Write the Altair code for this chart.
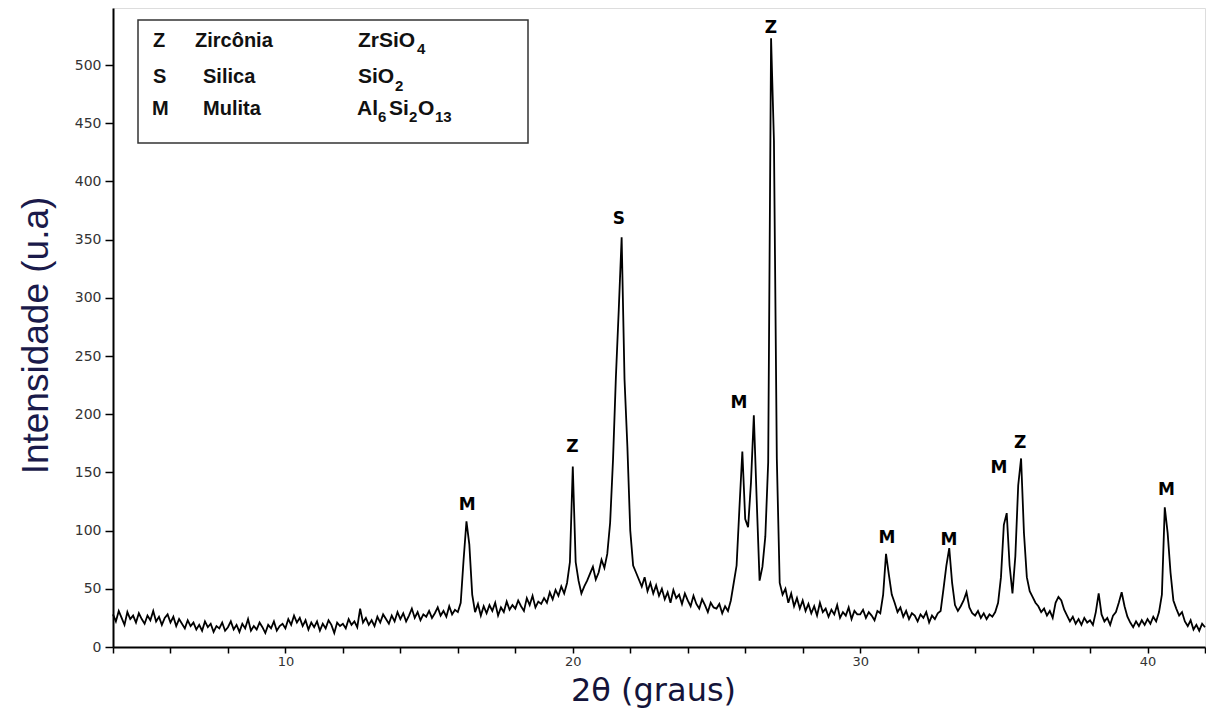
import altair as alt
import pandas as pd

# ---- data (2θ grid: 4.0 .. 42.0, step 0.1) ----
two_theta_start = 4.0
two_theta_step = 0.1
intensity = [
    28, 22, 31, 25, 19, 30, 24, 27, 21, 29,      # 4
    24, 20, 27, 23, 31, 22, 26, 19, 25, 28,      # 5
    21, 26, 18, 24, 20, 16, 23, 18, 21, 15,      # 6
    19, 14, 22, 17, 20, 13, 18, 16, 21, 14,      # 7
    17, 22, 15, 19, 13, 20, 16, 24, 14, 18,      # 8
    15, 21, 17, 12, 19, 16, 22, 14, 18, 20,      # 9
    16, 24, 19, 27, 21, 25, 18, 23, 15, 21,      # 10
    17, 22, 14, 20, 16, 23, 19, 12, 21, 18,      # 11
    20, 16, 24, 19, 22, 17, 33, 21, 25, 19,      # 12
    23, 18, 26, 21, 28, 24, 20, 27, 22, 30,      # 13
    24, 29, 22, 27, 33, 25, 30, 23, 28, 26,      # 14
    31, 25, 29, 34, 27, 31, 26, 35, 28, 32,      # 15
    30, 38, 75, 108, 88, 45, 30, 37, 27, 35,     # 16
    29, 36, 31, 38, 27, 34, 30, 39, 32, 36,      # 17
    33, 40, 35, 31, 42, 36, 44, 34, 39, 37,      # 18
    42, 38, 47, 41, 49, 44, 52, 46, 55, 73,      # 19
    155, 73, 57, 46, 52, 57, 63, 69, 58, 64,     # 20
    75, 68, 80, 107, 161, 232, 290, 352, 230, 172,  # 21
    100, 70, 64, 58, 52, 60, 48, 55, 46, 53,     # 22
    44, 50, 41, 47, 38, 49, 42, 45, 37, 46,      # 23
    40, 35, 44, 37, 33, 41, 36, 30, 38, 34,      # 24
    33, 37, 29, 35, 31, 40, 55, 70, 120, 168,    # 25
    110, 103, 141, 199, 126, 57, 69, 95, 159, 523,  # 26
    435, 162, 55, 45, 50, 38, 46, 35, 42, 33,    # 27
    40, 31, 37, 29, 35, 27, 38, 30, 33, 26,      # 28
    32, 28, 36, 25, 30, 27, 34, 24, 31, 28,      # 29
    28, 32, 25, 30, 27, 23, 31, 29, 45, 80,      # 30
    62, 45, 38, 30, 34, 26, 31, 24, 29, 27,      # 31
    22, 28, 25, 30, 21, 27, 24, 29, 31, 50,      # 32
    70, 85, 55, 36, 31, 35, 40, 47, 34, 29,      # 33
    27, 31, 25, 29, 24, 28, 26, 30, 38, 60,      # 34
    105, 115, 70, 46, 78, 139, 162, 98, 60, 48,  # 35
    43, 38, 35, 30, 33, 27, 31, 25, 38, 43,      # 36
    40, 32, 27, 22, 26, 20, 24, 19, 25, 21,      # 37
    23, 19, 30, 46, 28, 22, 25, 19, 27, 30,      # 38
    38, 47, 35, 26, 21, 17, 22, 18, 23, 19,      # 39
    24, 20, 26, 22, 30, 45, 120, 98, 64, 40,     # 40
    33, 27, 30, 22, 18, 23, 15, 19, 14, 20,      # 41
    17,                                          # 42
]
two_theta = [round(two_theta_start + two_theta_step * i, 2) for i in range(len(intensity))]

peak_label = ["M", "Z", "S", "M", "Z", "M", "M", "M", "Z", "M"]
label_x = [16.33, 19.99, 21.6, 25.78, 26.89, 30.93, 33.09, 34.83, 35.57, 40.66]
label_y = [122, 172, 368, 210, 532, 94, 92, 154, 175, 135]

x_ticks = list(range(4, 43, 2))
y_ticks = list(range(0, 501, 50))

df = pd.DataFrame({"tt": two_theta, "I": intensity})
lab = pd.DataFrame({"t": peak_label, "x": label_x, "y": label_y})
one = pd.DataFrame({"k": [0]})

xscale = alt.Scale(domain=[4, 42], nice=False, zero=False)
yscale = alt.Scale(domain=[0, 549], nice=False)

line = alt.Chart(df).mark_line(color="black", strokeWidth=1.8, interpolate="linear").encode(
    x=alt.X("tt:Q", scale=xscale, axis=alt.Axis(
        values=x_ticks,
        labelExpr="datum.value % 10 === 0 ? datum.label : ''",
        labelOverlap=False, labelFlush=False,
        labelFont="DejaVu Sans", labelFontSize=13, labelColor="#333",
        tickSize=6, tickColor="black", tickWidth=1.5,
        domainColor="black", domainWidth=2, labelPadding=2, grid=False,
        title="2θ (graus)", titleFont="DejaVu Sans", titleFontSize=32,
        titleFontWeight="normal", titleColor="#14143a",
        titleX=540, titleY=53, titleBaseline="alphabetic", titleAlign="center")),
    y=alt.Y("I:Q", scale=yscale, axis=alt.Axis(
        values=y_ticks, labelFont="DejaVu Sans", labelFontSize=14, labelColor="#333",
        tickSize=8, tickColor="black", tickWidth=1.5,
        domainColor="black", domainWidth=2, labelPadding=4, grid=False,
        title="Intensidade (u.a)", titleFont="Liberation Sans", titleFontSize=37,
        titleFontWeight="normal", titleColor="#1a1a4a",
        titleAngle=270, titleX=-58, titleY=327, titleBaseline="bottom", titleAlign="center")),
)

labels = alt.Chart(lab).mark_text(font="DejaVu Sans", fontSize=17, fontWeight="bold",
                                  color="black", baseline="middle", align="center").encode(
    x=alt.X("x:Q", scale=xscale), y=alt.Y("y:Q", scale=yscale), text="t:N")

box = alt.Chart(one).mark_rect(fill="white", stroke="#333", strokeWidth=1.5).encode(
    x=alt.value(25), x2=alt.value(415), y=alt.value(12), y2=alt.value(135))


def txt(s, x, y, size=19, font="Liberation Sans"):
    return alt.Chart(one).mark_text(text=s, align="left", baseline="alphabetic",
                                    fontSize=size, font=font, fontWeight="bold",
                                    color="#111").encode(x=alt.value(x), y=alt.value(y))


legend_items = [
    txt("Z", 40, 39, 20), txt("Zircônia", 82, 39, 20), txt("ZrSiO", 245, 39, 21), txt("4", 304, 46, 15),
    txt("S", 40, 75, 20), txt("Silica", 90, 75, 20), txt("SiO", 245, 75, 21), txt("2", 282, 83, 15),
    txt("M", 39, 107, 20), txt("Mulita", 90, 107, 20), txt("Al", 244, 107, 21), txt("6", 265, 114, 15),
    txt("Si", 276, 107, 21), txt("2", 296, 114, 15), txt("O", 305, 107, 21), txt("13", 322, 114, 15),
]

chart = alt.layer(line, labels, box, *legend_items).properties(
    width=1092, height=639,
    padding={"left": 113, "top": 8, "right": 1, "bottom": 61},
    autosize=alt.AutoSizeParams(type="none"),
).configure_view(stroke="#444", strokeWidth=2).configure(background="white")

chart.save("out.html", embed_options={"renderer": "svg", "actions": False})
